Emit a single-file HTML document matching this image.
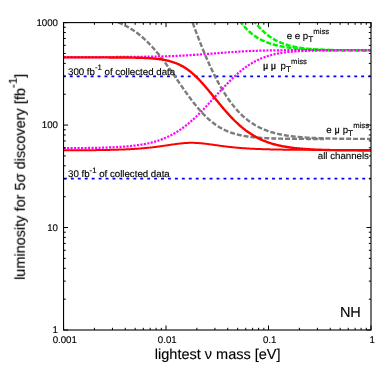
<!DOCTYPE html>
<html><head><meta charset="utf-8"><title>plot</title>
<style>
html,body{margin:0;padding:0;background:#fff;}
body{width:389px;height:375px;overflow:hidden;font-family:"Liberation Sans",sans-serif;}
svg{display:block;}
</style></head><body>
<svg width="389" height="375" viewBox="0 0 389 375">
<rect x="0" y="0" width="389" height="375" fill="#ffffff"/>
<defs><filter id="nf" filterUnits="userSpaceOnUse" x="0" y="0" width="389" height="375"><feOffset dx="0" dy="0"/></filter><clipPath id="c"><rect x="63.55" y="22.60" width="307.45" height="307.40"/></clipPath></defs>
<g clip-path="url(#c)" fill="none" stroke-linejoin="round">
<path d="M62.9,76.4 L371.00,76.4" stroke="#0000ff" stroke-width="1.75" stroke-dasharray="2.9,4.037"/>
<path d="M63.95,178.65 L371.00,178.65" stroke="#0000ff" stroke-width="1.75" stroke-dasharray="2.9,4.037"/>
<path d="M63.55,13.73 L64.20,13.76 L64.85,13.78 L65.50,13.81 L66.15,13.84 L66.81,13.87 L67.46,13.90 L68.11,13.93 L68.76,13.96 L69.41,13.99 L70.06,14.03 L70.71,14.06 L71.36,14.10 L72.01,14.14 L72.67,14.17 L73.32,14.21 L73.97,14.25 L74.62,14.30 L75.27,14.34 L75.92,14.38 L76.57,14.43 L77.22,14.47 L77.87,14.52 L78.53,14.57 L79.18,14.62 L79.83,14.67 L80.48,14.73 L81.13,14.78 L81.78,14.84 L82.43,14.90 L83.08,14.96 L83.73,15.02 L84.39,15.08 L85.04,15.15 L85.69,15.22 L86.34,15.29 L86.99,15.36 L87.64,15.43 L88.29,15.51 L88.94,15.58 L89.59,15.66 L90.25,15.74 L90.90,15.83 L91.55,15.91 L92.20,16.00 L92.85,16.09 L93.50,16.19 L94.15,16.28 L94.80,16.38 L95.46,16.49 L96.11,16.59 L96.76,16.70 L97.41,16.81 L98.06,16.92 L98.71,17.04 L99.36,17.16 L100.01,17.28 L100.66,17.41 L101.32,17.54 L101.97,17.67 L102.62,17.81 L103.27,17.95 L103.92,18.09 L104.57,18.24 L105.22,18.40 L105.87,18.55 L106.52,18.71 L107.18,18.88 L107.83,19.05 L108.48,19.22 L109.13,19.40 L109.78,19.58 L110.43,19.77 L111.08,19.96 L111.73,20.16 L112.38,20.36 L113.04,20.57 L113.69,20.79 L114.34,21.00 L114.99,21.23 L115.64,21.46 L116.29,21.69 L116.94,21.94 L117.59,22.18 L118.24,22.44 L118.90,22.70 L119.55,22.96 L120.20,23.24 L120.85,23.51 L121.50,23.80 L122.15,24.09 L122.80,24.39 L123.45,24.70 L124.10,25.01 L124.76,25.34 L125.41,25.66 L126.06,26.00 L126.71,26.35 L127.36,26.70 L128.01,27.06 L128.66,27.42 L129.31,27.80 L129.96,28.18 L130.62,28.58 L131.27,28.98 L131.92,29.39 L132.57,29.81 L133.22,30.23 L133.87,30.67 L134.52,31.11 L135.17,31.57 L135.82,32.03 L136.48,32.50 L137.13,32.98 L137.78,33.47 L138.43,33.98 L139.08,34.48 L139.73,35.00 L140.38,35.53 L141.03,36.07 L141.69,36.62 L142.34,37.18 L142.99,37.75 L143.64,38.33 L144.29,38.91 L144.94,39.51 L145.59,40.12 L146.24,40.74 L146.89,41.37 L147.55,42.00 L148.20,42.65 L148.85,43.31 L149.50,43.98 L150.15,44.66 L150.80,45.34 L151.45,46.04 L152.10,46.75 L152.75,47.46 L153.41,48.19 L154.06,48.92 L154.71,49.67 L155.36,50.42 L156.01,51.19 L156.66,51.96 L157.31,52.74 L157.96,53.53 L158.61,54.33 L159.27,55.13 L159.92,55.95 L160.57,56.77 L161.22,57.60 L161.87,58.44 L162.52,59.29 L163.17,60.14 L163.82,61.00 L164.47,61.87 L165.13,62.74 L165.78,63.62 L166.43,64.51 L167.08,65.40 L167.73,66.30 L168.38,67.20 L169.03,68.11 L169.68,69.02 L170.33,69.94 L170.99,70.86 L171.64,71.79 L172.29,72.71 L172.94,73.65 L173.59,74.58 L174.24,75.52 L174.89,76.46 L175.54,77.40 L176.19,78.34 L176.85,79.28 L177.50,80.22 L178.15,81.17 L178.80,82.11 L179.45,83.05 L180.10,83.99 L180.75,84.93 L181.40,85.87 L182.05,86.81 L182.71,87.74 L183.36,88.68 L184.01,89.60 L184.66,90.53 L185.31,91.45 L185.96,92.37 L186.61,93.28 L187.26,94.19 L187.91,95.09 L188.57,95.98 L189.22,96.87 L189.87,97.76 L190.52,98.63 L191.17,99.50 L191.82,100.36 L192.47,101.21 L193.12,102.06 L193.77,102.90 L194.43,103.73 L195.08,104.54 L195.73,105.35 L196.38,106.15 L197.03,106.95 L197.68,107.73 L198.33,108.50 L198.98,109.26 L199.64,110.00 L200.29,110.74 L200.94,111.47 L201.59,112.18 L202.24,112.89 L202.89,113.58 L203.54,114.26 L204.19,114.93 L204.84,115.59 L205.50,116.24 L206.15,116.87 L206.80,117.49 L207.45,118.10 L208.10,118.70 L208.75,119.28 L209.40,119.86 L210.05,120.42 L210.70,120.97 L211.36,121.51 L212.01,122.03 L212.66,122.54 L213.31,123.04 L213.96,123.53 L214.61,124.01 L215.26,124.48 L215.91,124.93 L216.56,125.38 L217.22,125.81 L217.87,126.23 L218.52,126.64 L219.17,127.04 L219.82,127.43 L220.47,127.81 L221.12,128.17 L221.77,128.53 L222.42,128.88 L223.08,129.22 L223.73,129.54 L224.38,129.86 L225.03,130.17 L225.68,130.47 L226.33,130.76 L226.98,131.04 L227.63,131.32 L228.28,131.58 L228.94,131.84 L229.59,132.09 L230.24,132.33 L230.89,132.56 L231.54,132.79 L232.19,133.01 L232.84,133.22 L233.49,133.43 L234.14,133.63 L234.80,133.82 L235.45,134.00 L236.10,134.18 L236.75,134.36 L237.40,134.52 L238.05,134.69 L238.70,134.84 L239.35,134.99 L240.00,135.14 L240.66,135.28 L241.31,135.42 L241.96,135.55 L242.61,135.67 L243.26,135.80 L243.91,135.92 L244.56,136.03 L245.21,136.14 L245.87,136.25 L246.52,136.35 L247.17,136.45 L247.82,136.54 L248.47,136.63 L249.12,136.72 L249.77,136.81 L250.42,136.89 L251.07,136.97 L251.73,137.04 L252.38,137.12 L253.03,137.19 L253.68,137.26 L254.33,137.32 L254.98,137.39 L255.63,137.45 L256.28,137.50 L256.93,137.56 L257.59,137.62 L258.24,137.67 L258.89,137.72 L259.54,137.77 L260.19,137.81 L260.84,137.86 L261.49,137.90 L262.14,137.94 L262.79,137.98 L263.45,138.02 L264.10,138.06 L264.75,138.10 L265.40,138.13 L266.05,138.16 L266.70,138.20 L267.35,138.23 L268.00,138.26 L268.65,138.28 L269.31,138.31 L269.96,138.34 L270.61,138.36 L271.26,138.39 L271.91,138.41 L272.56,138.43 L273.21,138.46 L273.86,138.48 L274.51,138.50 L275.17,138.52 L275.82,138.53 L276.47,138.55 L277.12,138.57 L277.77,138.59 L278.42,138.60 L279.07,138.62 L279.72,138.63 L280.37,138.65 L281.03,138.66 L281.68,138.67 L282.33,138.68 L282.98,138.70 L283.63,138.71 L284.28,138.72 L284.93,138.73 L285.58,138.74 L286.23,138.75 L286.89,138.76 L287.54,138.77 L288.19,138.78 L288.84,138.79 L289.49,138.79 L290.14,138.80 L290.79,138.81 L291.44,138.82 L292.09,138.82 L292.75,138.83 L293.40,138.84 L294.05,138.84 L294.70,138.85 L295.35,138.85 L296.00,138.86 L296.65,138.87 L297.30,138.87 L297.95,138.88 L298.61,138.88 L299.26,138.88 L299.91,138.89 L300.56,138.89 L301.21,138.90 L301.86,138.90 L302.51,138.90 L303.16,138.91 L303.82,138.91 L304.47,138.91 L305.12,138.92 L305.77,138.92 L306.42,138.92 L307.07,138.93 L307.72,138.93 L308.37,138.93 L309.02,138.93 L309.68,138.94 L310.33,138.94 L310.98,138.94 L311.63,138.94 L312.28,138.95 L312.93,138.95 L313.58,138.95 L314.23,138.95 L314.88,138.95 L315.54,138.95 L316.19,138.96 L316.84,138.96 L317.49,138.96 L318.14,138.96 L318.79,138.96 L319.44,138.96 L320.09,138.96 L320.74,138.97 L321.40,138.97 L322.05,138.97 L322.70,138.97 L323.35,138.97 L324.00,138.97" stroke="#7c7c7c" stroke-width="2.4" stroke-dasharray="5.0,1.94"/>
<path d="M188.07,9.68 L188.84,11.89 L189.60,14.09 L190.37,16.27 L191.14,18.44 L191.91,20.59 L192.68,22.73 L193.45,24.85 L194.22,26.95 L194.98,29.03 L195.75,31.10 L196.52,33.15 L197.29,35.18 L198.06,37.19 L198.83,39.18 L199.60,41.16 L200.37,43.11 L201.13,45.05 L201.90,46.96 L202.67,48.86 L203.44,50.73 L204.21,52.58 L204.98,54.41 L205.75,56.22 L206.51,58.01 L207.28,59.78 L208.05,61.52 L208.82,63.24 L209.59,64.94 L210.36,66.62 L211.13,68.27 L211.89,69.90 L212.66,71.50 L213.43,73.09 L214.20,74.65 L214.97,76.18 L215.74,77.69 L216.51,79.18 L217.27,80.64 L218.04,82.08 L218.81,83.50 L219.58,84.89 L220.35,86.26 L221.12,87.60 L221.89,88.92 L222.66,90.21 L223.42,91.48 L224.19,92.73 L224.96,93.95 L225.73,95.15 L226.50,96.32 L227.27,97.47 L228.04,98.60 L228.80,99.70 L229.57,100.78 L230.34,101.84 L231.11,102.88 L231.88,103.89 L232.65,104.88 L233.42,105.84 L234.18,106.79 L234.95,107.71 L235.72,108.61 L236.49,109.49 L237.26,110.35 L238.03,111.19 L238.80,112.01 L239.57,112.81 L240.33,113.59 L241.10,114.34 L241.87,115.08 L242.64,115.80 L243.41,116.51 L244.18,117.19 L244.95,117.85 L245.71,118.50 L246.48,119.13 L247.25,119.74 L248.02,120.34 L248.79,120.92 L249.56,121.48 L250.33,122.03 L251.09,122.57 L251.86,123.08 L252.63,123.59 L253.40,124.07 L254.17,124.55 L254.94,125.01 L255.71,125.46 L256.47,125.89 L257.24,126.31 L258.01,126.72 L258.78,127.12 L259.55,127.50 L260.32,127.88 L261.09,128.24 L261.86,128.59 L262.62,128.93 L263.39,129.26 L264.16,129.58 L264.93,129.89 L265.70,130.19 L266.47,130.48 L267.24,130.76 L268.00,131.03 L268.77,131.30 L269.54,131.55 L270.31,131.80 L271.08,132.04 L271.85,132.27 L272.62,132.50 L273.38,132.72 L274.15,132.93 L274.92,133.13 L275.69,133.33 L276.46,133.52 L277.23,133.70 L278.00,133.88 L278.76,134.06 L279.53,134.22 L280.30,134.38 L281.07,134.54 L281.84,134.69 L282.61,134.84 L283.38,134.98 L284.15,135.12 L284.91,135.25 L285.68,135.38 L286.45,135.50 L287.22,135.62 L287.99,135.73 L288.76,135.85 L289.53,135.95 L290.29,136.06 L291.06,136.16 L291.83,136.26 L292.60,136.35 L293.37,136.44 L294.14,136.53 L294.91,136.61 L295.67,136.69 L296.44,136.77 L297.21,136.85 L297.98,136.92 L298.75,137.00 L299.52,137.06 L300.29,137.13 L301.06,137.20 L301.82,137.26 L302.59,137.32 L303.36,137.38 L304.13,137.43 L304.90,137.49 L305.67,137.54 L306.44,137.59 L307.20,137.64 L307.97,137.68 L308.74,137.73 L309.51,137.77 L310.28,137.82 L311.05,137.86 L311.82,137.90 L312.58,137.93 L313.35,137.97 L314.12,138.01 L314.89,138.04 L315.66,138.07 L316.43,138.11 L317.20,138.14 L317.96,138.17 L318.73,138.20 L319.50,138.22 L320.27,138.25 L321.04,138.28 L321.81,138.30 L322.58,138.32 L323.35,138.35 L324.11,138.37 L324.88,138.39 L325.65,138.41 L326.42,138.43 L327.19,138.45 L327.96,138.47 L328.73,138.49 L329.49,138.51 L330.26,138.52 L331.03,138.54 L331.80,138.56 L332.57,138.57 L333.34,138.59 L334.11,138.60 L334.87,138.61 L335.64,138.63 L336.41,138.64 L337.18,138.65 L337.95,138.67 L338.72,138.68 L339.49,138.69 L340.25,138.70 L341.02,138.71 L341.79,138.72 L342.56,138.73 L343.33,138.74 L344.10,138.75 L344.87,138.76 L345.64,138.76 L346.40,138.77 L347.17,138.78 L347.94,138.79 L348.71,138.79 L349.48,138.80 L350.25,138.81 L351.02,138.82 L351.78,138.82 L352.55,138.83 L353.32,138.83 L354.09,138.84 L354.86,138.84 L355.63,138.85 L356.40,138.85 L357.16,138.86 L357.93,138.86 L358.70,138.87 L359.47,138.87 L360.24,138.88 L361.01,138.88 L361.78,138.89 L362.55,138.89 L363.31,138.89 L364.08,138.90 L364.85,138.90 L365.62,138.90 L366.39,138.91 L367.16,138.91 L367.93,138.91 L368.69,138.92 L369.46,138.92 L370.23,138.92 L371.00,138.92" stroke="#7c7c7c" stroke-width="2.4" stroke-dasharray="5.0,1.94"/>
<path d="M232.65,8.72 L233.42,10.23 L234.18,11.68 L234.95,13.08 L235.72,14.43 L236.49,15.73 L237.26,16.99 L238.03,18.19 L238.80,19.36 L239.57,20.48 L240.33,21.57 L241.10,22.61 L241.87,23.62 L242.64,24.58 L243.41,25.52 L244.18,26.42 L244.95,27.29 L245.71,28.12 L246.48,28.93 L247.25,29.71 L248.02,30.46 L248.79,31.18 L249.56,31.88 L250.33,32.55 L251.09,33.19 L251.86,33.82 L252.63,34.42 L253.40,35.00 L254.17,35.56 L254.94,36.09 L255.71,36.61 L256.47,37.11 L257.24,37.59 L258.01,38.06 L258.78,38.51 L259.55,38.94 L260.32,39.35 L261.09,39.75 L261.86,40.14 L262.62,40.51 L263.39,40.87 L264.16,41.22 L264.93,41.55 L265.70,41.87 L266.47,42.18 L267.24,42.48 L268.00,42.77 L268.77,43.04 L269.54,43.31 L270.31,43.57 L271.08,43.82 L271.85,44.06 L272.62,44.29 L273.38,44.51 L274.15,44.72 L274.92,44.93 L275.69,45.13 L276.46,45.32 L277.23,45.51 L278.00,45.69 L278.76,45.86 L279.53,46.02 L280.30,46.18 L281.07,46.34 L281.84,46.48 L282.61,46.63 L283.38,46.77 L284.15,46.90 L284.91,47.03 L285.68,47.15 L286.45,47.27 L287.22,47.38 L287.99,47.49 L288.76,47.60 L289.53,47.70 L290.29,47.80 L291.06,47.90 L291.83,47.99 L292.60,48.08 L293.37,48.16 L294.14,48.25 L294.91,48.32 L295.67,48.40 L296.44,48.47 L297.21,48.55 L297.98,48.61 L298.75,48.68 L299.52,48.74 L300.29,48.81 L301.06,48.86 L301.82,48.92 L302.59,48.98 L303.36,49.03 L304.13,49.08 L304.90,49.13 L305.67,49.18 L306.44,49.22 L307.20,49.27 L307.97,49.31 L308.74,49.35 L309.51,49.39 L310.28,49.43 L311.05,49.46 L311.82,49.50 L312.58,49.53 L313.35,49.57 L314.12,49.60 L314.89,49.63 L315.66,49.66 L316.43,49.69 L317.20,49.71 L317.96,49.74 L318.73,49.76 L319.50,49.79 L320.27,49.81 L321.04,49.83 L321.81,49.86 L322.58,49.88 L323.35,49.90 L324.11,49.92 L324.88,49.94 L325.65,49.95 L326.42,49.97 L327.19,49.99 L327.96,50.01 L328.73,50.02 L329.49,50.04 L330.26,50.05 L331.03,50.06 L331.80,50.08 L332.57,50.09 L333.34,50.10 L334.11,50.12 L334.87,50.13 L335.64,50.14 L336.41,50.15 L337.18,50.16 L337.95,50.17 L338.72,50.18 L339.49,50.19 L340.25,50.20 L341.02,50.21 L341.79,50.22 L342.56,50.22 L343.33,50.23 L344.10,50.24 L344.87,50.25 L345.64,50.25 L346.40,50.26 L347.17,50.27 L347.94,50.27 L348.71,50.28 L349.48,50.28 L350.25,50.29 L351.02,50.30 L351.78,50.30 L352.55,50.31 L353.32,50.31 L354.09,50.32 L354.86,50.32 L355.63,50.32 L356.40,50.33 L357.16,50.33 L357.93,50.34 L358.70,50.34 L359.47,50.34 L360.24,50.35 L361.01,50.35 L361.78,50.35 L362.55,50.36 L363.31,50.36 L364.08,50.36 L364.85,50.37 L365.62,50.37 L366.39,50.37 L367.16,50.37 L367.93,50.38 L368.69,50.38 L369.46,50.38 L370.23,50.38 L371.00,50.38" stroke="#00f200" stroke-width="2.5" stroke-dasharray="5.1,1.84"/>
<path d="M245.71,7.98 L246.48,9.34 L247.25,10.66 L248.02,11.95 L248.79,13.20 L249.56,14.43 L250.33,15.62 L251.09,16.78 L251.86,17.91 L252.63,19.01 L253.40,20.08 L254.17,21.12 L254.94,22.13 L255.71,23.11 L256.47,24.07 L257.24,24.99 L258.01,25.89 L258.78,26.76 L259.55,27.61 L260.32,28.43 L261.09,29.22 L261.86,29.99 L262.62,30.74 L263.39,31.46 L264.16,32.16 L264.93,32.84 L265.70,33.49 L266.47,34.12 L267.24,34.74 L268.00,35.33 L268.77,35.90 L269.54,36.45 L270.31,36.99 L271.08,37.50 L271.85,38.00 L272.62,38.48 L273.38,38.94 L274.15,39.39 L274.92,39.82 L275.69,40.24 L276.46,40.64 L277.23,41.03 L278.00,41.40 L278.76,41.76 L279.53,42.11 L280.30,42.44 L281.07,42.76 L281.84,43.07 L282.61,43.37 L283.38,43.66 L284.15,43.93 L284.91,44.20 L285.68,44.46 L286.45,44.70 L287.22,44.94 L287.99,45.17 L288.76,45.39 L289.53,45.60 L290.29,45.80 L291.06,46.00 L291.83,46.19 L292.60,46.37 L293.37,46.54 L294.14,46.71 L294.91,46.87 L295.67,47.02 L296.44,47.17 L297.21,47.31 L297.98,47.45 L298.75,47.58 L299.52,47.71 L300.29,47.83 L301.06,47.95 L301.82,48.06 L302.59,48.17 L303.36,48.27 L304.13,48.37 L304.90,48.47 L305.67,48.56 L306.44,48.64 L307.20,48.73 L307.97,48.81 L308.74,48.89 L309.51,48.96 L310.28,49.04 L311.05,49.11 L311.82,49.17 L312.58,49.24 L313.35,49.30 L314.12,49.36 L314.89,49.41 L315.66,49.47 L316.43,49.52 L317.20,49.57 L317.96,49.62 L318.73,49.66 L319.50,49.71 L320.27,49.75 L321.04,49.79 L321.81,49.83 L322.58,49.86 L323.35,49.90 L324.11,49.94 L324.88,49.97 L325.65,50.00 L326.42,50.03 L327.19,50.06 L327.96,50.09 L328.73,50.12 L329.49,50.14 L330.26,50.17 L331.03,50.19 L331.80,50.21 L332.57,50.23 L333.34,50.26 L334.11,50.28 L334.87,50.29 L335.64,50.31 L336.41,50.33 L337.18,50.35 L337.95,50.36 L338.72,50.38 L339.49,50.40 L340.25,50.41 L341.02,50.42 L341.79,50.44 L342.56,50.45 L343.33,50.46 L344.10,50.47 L344.87,50.49 L345.64,50.50 L346.40,50.51 L347.17,50.52 L347.94,50.53 L348.71,50.54 L349.48,50.54 L350.25,50.55 L351.02,50.56 L351.78,50.57 L352.55,50.58 L353.32,50.58 L354.09,50.59 L354.86,50.60 L355.63,50.60 L356.40,50.61 L357.16,50.62 L357.93,50.62 L358.70,50.63 L359.47,50.63 L360.24,50.64 L361.01,50.64 L361.78,50.65 L362.55,50.65 L363.31,50.65 L364.08,50.66 L364.85,50.66 L365.62,50.67 L366.39,50.67 L367.16,50.67 L367.93,50.68 L368.69,50.68 L369.46,50.68 L370.23,50.69 L371.00,50.69" stroke="#00f200" stroke-width="2.5" stroke-dasharray="5.1,1.84"/>
<path d="M63.55,57.07 L64.32,57.07 L65.09,57.07 L65.86,57.07 L66.62,57.07 L67.39,57.07 L68.16,57.07 L68.93,57.07 L69.70,57.07 L70.47,57.07 L71.24,57.07 L72.00,57.07 L72.77,57.07 L73.54,57.07 L74.31,57.07 L75.08,57.06 L75.85,57.06 L76.62,57.06 L77.39,57.06 L78.15,57.06 L78.92,57.06 L79.69,57.06 L80.46,57.06 L81.23,57.06 L82.00,57.06 L82.77,57.06 L83.53,57.06 L84.30,57.06 L85.07,57.05 L85.84,57.05 L86.61,57.05 L87.38,57.05 L88.15,57.05 L88.91,57.05 L89.68,57.05 L90.45,57.05 L91.22,57.05 L91.99,57.04 L92.76,57.04 L93.53,57.04 L94.29,57.04 L95.06,57.04 L95.83,57.04 L96.60,57.04 L97.37,57.03 L98.14,57.03 L98.91,57.03 L99.68,57.03 L100.44,57.03 L101.21,57.03 L101.98,57.02 L102.75,57.02 L103.52,57.02 L104.29,57.02 L105.06,57.02 L105.82,57.01 L106.59,57.01 L107.36,57.01 L108.13,57.01 L108.90,57.00 L109.67,57.00 L110.44,57.00 L111.20,57.00 L111.97,56.99 L112.74,56.99 L113.51,56.99 L114.28,56.98 L115.05,56.98 L115.82,56.98 L116.59,56.97 L117.35,56.97 L118.12,56.97 L118.89,56.96 L119.66,56.96 L120.43,56.95 L121.20,56.95 L121.97,56.94 L122.73,56.94 L123.50,56.94 L124.27,56.93 L125.04,56.93 L125.81,56.92 L126.58,56.92 L127.35,56.91 L128.11,56.90 L128.88,56.90 L129.65,56.89 L130.42,56.89 L131.19,56.88 L131.96,56.87 L132.73,56.87 L133.49,56.86 L134.26,56.85 L135.03,56.84 L135.80,56.84 L136.57,56.83 L137.34,56.82 L138.11,56.81 L138.88,56.80 L139.64,56.79 L140.41,56.79 L141.18,56.78 L141.95,56.77 L142.72,56.76 L143.49,56.75 L144.26,56.74 L145.02,56.72 L145.79,56.71 L146.56,56.70 L147.33,56.69 L148.10,56.68 L148.87,56.66 L149.64,56.65 L150.40,56.64 L151.17,56.62 L151.94,56.61 L152.71,56.59 L153.48,56.58 L154.25,56.56 L155.02,56.55 L155.78,56.53 L156.55,56.51 L157.32,56.50 L158.09,56.48 L158.86,56.46 L159.63,56.44 L160.40,56.42 L161.17,56.40 L161.93,56.38 L162.70,56.36 L163.47,56.34 L164.24,56.32 L165.01,56.29 L165.78,56.27 L166.55,56.25 L167.31,56.22 L168.08,56.20 L168.85,56.17 L169.62,56.14 L170.39,56.12 L171.16,56.09 L171.93,56.06 L172.69,56.03 L173.46,56.00 L174.23,55.97 L175.00,55.94 L175.77,55.91 L176.54,55.87 L177.31,55.84 L178.08,55.81 L178.84,55.77 L179.61,55.74 L180.38,55.70 L181.15,55.66 L181.92,55.62 L182.69,55.58 L183.46,55.54 L184.22,55.50 L184.99,55.46 L185.76,55.42 L186.53,55.38 L187.30,55.33 L188.07,55.29 L188.84,55.24 L189.60,55.20 L190.37,55.15 L191.14,55.10 L191.91,55.06 L192.68,55.01 L193.45,54.96 L194.22,54.91 L194.98,54.86 L195.75,54.80 L196.52,54.75 L197.29,54.70 L198.06,54.64 L198.83,54.59 L199.60,54.53 L200.37,54.48 L201.13,54.42 L201.90,54.37 L202.67,54.31 L203.44,54.25 L204.21,54.19 L204.98,54.13 L205.75,54.07 L206.51,54.01 L207.28,53.96 L208.05,53.89 L208.82,53.83 L209.59,53.77 L210.36,53.71 L211.13,53.65 L211.89,53.59 L212.66,53.53 L213.43,53.47 L214.20,53.41 L214.97,53.34 L215.74,53.28 L216.51,53.22 L217.27,53.16 L218.04,53.10 L218.81,53.04 L219.58,52.98 L220.35,52.92 L221.12,52.86 L221.89,52.80 L222.66,52.74 L223.42,52.68 L224.19,52.62 L224.96,52.56 L225.73,52.50 L226.50,52.44 L227.27,52.39 L228.04,52.33 L228.80,52.27 L229.57,52.22 L230.34,52.16 L231.11,52.11 L231.88,52.06 L232.65,52.01 L233.42,51.95 L234.18,51.90 L234.95,51.85 L235.72,51.80 L236.49,51.75 L237.26,51.71 L238.03,51.66 L238.80,51.61 L239.57,51.57 L240.33,51.52 L241.10,51.48 L241.87,51.44 L242.64,51.39 L243.41,51.35 L244.18,51.31 L244.95,51.27 L245.71,51.24 L246.48,51.20 L247.25,51.16 L248.02,51.12 L248.79,51.09 L249.56,51.06 L250.33,51.02 L251.09,50.99 L251.86,50.96 L252.63,50.93 L253.40,50.90 L254.17,50.87 L254.94,50.84 L255.71,50.81 L256.47,50.78 L257.24,50.76 L258.01,50.73 L258.78,50.71 L259.55,50.68 L260.32,50.66 L261.09,50.64 L261.86,50.62 L262.62,50.59 L263.39,50.57 L264.16,50.55 L264.93,50.53 L265.70,50.52 L266.47,50.50 L267.24,50.48 L268.00,50.46 L268.77,50.45 L269.54,50.43 L270.31,50.41 L271.08,50.40 L271.85,50.39 L272.62,50.37 L273.38,50.36 L274.15,50.35 L274.92,50.33 L275.69,50.32 L276.46,50.31 L277.23,50.30 L278.00,50.29 L278.76,50.28 L279.53,50.27 L280.30,50.26 L281.07,50.25 L281.84,50.24 L282.61,50.23 L283.38,50.22 L284.15,50.21 L284.91,50.20 L285.68,50.20 L286.45,50.19 L287.22,50.18 L287.99,50.18 L288.76,50.17 L289.53,50.16 L290.29,50.16 L291.06,50.15 L291.83,50.15 L292.60,50.14 L293.37,50.13 L294.14,50.13 L294.91,50.12 L295.67,50.12 L296.44,50.12 L297.21,50.11 L297.98,50.11 L298.75,50.10 L299.52,50.10 L300.29,50.10 L301.06,50.09 L301.82,50.09 L302.59,50.09 L303.36,50.08 L304.13,50.08 L304.90,50.08 L305.67,50.07 L306.44,50.07 L307.20,50.07 L307.97,50.07 L308.74,50.06 L309.51,50.06 L310.28,50.06 L311.05,50.06 L311.82,50.06 L312.58,50.05 L313.35,50.05 L314.12,50.05 L314.89,50.05 L315.66,50.05 L316.43,50.04 L317.20,50.04 L317.96,50.04 L318.73,50.04 L319.50,50.04 L320.27,50.04 L321.04,50.04 L321.81,50.04 L322.58,50.03 L323.35,50.03 L324.11,50.03 L324.88,50.03 L325.65,50.03 L326.42,50.03 L327.19,50.03 L327.96,50.03 L328.73,50.03 L329.49,50.03 L330.26,50.03 L331.03,50.02 L331.80,50.02 L332.57,50.02 L333.34,50.02 L334.11,50.02 L334.87,50.02 L335.64,50.02 L336.41,50.02 L337.18,50.02 L337.95,50.02 L338.72,50.02 L339.49,50.02 L340.25,50.02 L341.02,50.02 L341.79,50.02 L342.56,50.02 L343.33,50.02 L344.10,50.02 L344.87,50.02 L345.64,50.02 L346.40,50.01 L347.17,50.01 L347.94,50.01 L348.71,50.01 L349.48,50.01 L350.25,50.01 L351.02,50.01 L351.78,50.01 L352.55,50.01 L353.32,50.01 L354.09,50.01 L354.86,50.01 L355.63,50.01 L356.40,50.01 L357.16,50.01 L357.93,50.01 L358.70,50.01 L359.47,50.01 L360.24,50.01 L361.01,50.01 L361.78,50.01 L362.55,50.01 L363.31,50.01 L364.08,50.01 L364.85,50.01 L365.62,50.01 L366.39,50.01 L367.16,50.01 L367.93,50.01 L368.69,50.01 L369.46,50.01 L370.23,50.01 L371.00,50.01" stroke="#ff00ff" stroke-width="2.2" stroke-dasharray="2.1,1.4"/>
<path d="M63.55,148.20 L64.23,148.19 L64.91,148.19 L65.59,148.19 L66.27,148.18 L66.96,148.18 L67.64,148.17 L68.32,148.17 L69.00,148.17 L69.68,148.16 L70.36,148.16 L71.04,148.15 L71.72,148.15 L72.40,148.14 L73.09,148.14 L73.77,148.14 L74.45,148.13 L75.13,148.12 L75.81,148.12 L76.49,148.11 L77.17,148.11 L77.85,148.10 L78.53,148.10 L79.22,148.09 L79.90,148.08 L80.58,148.08 L81.26,148.07 L81.94,148.06 L82.62,148.05 L83.30,148.05 L83.98,148.04 L84.66,148.03 L85.35,148.02 L86.03,148.01 L86.71,148.00 L87.39,147.99 L88.07,147.98 L88.75,147.97 L89.43,147.96 L90.11,147.95 L90.79,147.94 L91.48,147.93 L92.16,147.92 L92.84,147.91 L93.52,147.89 L94.20,147.88 L94.88,147.87 L95.56,147.85 L96.24,147.84 L96.93,147.82 L97.61,147.81 L98.29,147.79 L98.97,147.78 L99.65,147.76 L100.33,147.74 L101.01,147.73 L101.69,147.71 L102.37,147.69 L103.06,147.67 L103.74,147.65 L104.42,147.63 L105.10,147.61 L105.78,147.58 L106.46,147.56 L107.14,147.54 L107.82,147.51 L108.50,147.49 L109.19,147.46 L109.87,147.43 L110.55,147.41 L111.23,147.38 L111.91,147.35 L112.59,147.32 L113.27,147.29 L113.95,147.25 L114.63,147.22 L115.32,147.19 L116.00,147.15 L116.68,147.11 L117.36,147.08 L118.04,147.04 L118.72,147.00 L119.40,146.95 L120.08,146.91 L120.76,146.87 L121.45,146.82 L122.13,146.77 L122.81,146.72 L123.49,146.67 L124.17,146.62 L124.85,146.57 L125.53,146.51 L126.21,146.46 L126.89,146.40 L127.58,146.34 L128.26,146.28 L128.94,146.21 L129.62,146.14 L130.30,146.08 L130.98,146.01 L131.66,145.93 L132.34,145.86 L133.02,145.78 L133.71,145.70 L134.39,145.62 L135.07,145.54 L135.75,145.45 L136.43,145.36 L137.11,145.27 L137.79,145.17 L138.47,145.07 L139.15,144.97 L139.84,144.87 L140.52,144.76 L141.20,144.65 L141.88,144.54 L142.56,144.42 L143.24,144.30 L143.92,144.18 L144.60,144.05 L145.28,143.92 L145.97,143.78 L146.65,143.65 L147.33,143.50 L148.01,143.36 L148.69,143.20 L149.37,143.05 L150.05,142.89 L150.73,142.73 L151.42,142.56 L152.10,142.38 L152.78,142.20 L153.46,142.02 L154.14,141.83 L154.82,141.64 L155.50,141.44 L156.18,141.24 L156.86,141.03 L157.55,140.81 L158.23,140.59 L158.91,140.37 L159.59,140.13 L160.27,139.89 L160.95,139.65 L161.63,139.40 L162.31,139.14 L162.99,138.88 L163.68,138.61 L164.36,138.33 L165.04,138.05 L165.72,137.76 L166.40,137.46 L167.08,137.15 L167.76,136.84 L168.44,136.52 L169.12,136.19 L169.81,135.86 L170.49,135.52 L171.17,135.17 L171.85,134.81 L172.53,134.45 L173.21,134.07 L173.89,133.69 L174.57,133.30 L175.25,132.91 L175.94,132.50 L176.62,132.09 L177.30,131.66 L177.98,131.23 L178.66,130.79 L179.34,130.35 L180.02,129.89 L180.70,129.43 L181.38,128.95 L182.07,128.47 L182.75,127.98 L183.43,127.49 L184.11,126.98 L184.79,126.46 L185.47,125.94 L186.15,125.41 L186.83,124.87 L187.51,124.32 L188.20,123.76 L188.88,123.20 L189.56,122.62 L190.24,122.04 L190.92,121.45 L191.60,120.86 L192.28,120.25 L192.96,119.64 L193.64,119.02 L194.33,118.39 L195.01,117.76 L195.69,117.12 L196.37,116.47 L197.05,115.81 L197.73,115.15 L198.41,114.48 L199.09,113.81 L199.77,113.13 L200.46,112.44 L201.14,111.75 L201.82,111.05 L202.50,110.35 L203.18,109.64 L203.86,108.93 L204.54,108.21 L205.22,107.49 L205.91,106.77 L206.59,106.04 L207.27,105.31 L207.95,104.57 L208.63,103.83 L209.31,103.09 L209.99,102.35 L210.67,101.61 L211.35,100.86 L212.04,100.11 L212.72,99.36 L213.40,98.61 L214.08,97.86 L214.76,97.11 L215.44,96.36 L216.12,95.60 L216.80,94.85 L217.48,94.10 L218.17,93.36 L218.85,92.61 L219.53,91.86 L220.21,91.12 L220.89,90.38 L221.57,89.64 L222.25,88.91 L222.93,88.17 L223.61,87.45 L224.30,86.72 L224.98,86.00 L225.66,85.29 L226.34,84.57 L227.02,83.87 L227.70,83.17 L228.38,82.47 L229.06,81.78 L229.74,81.10 L230.43,80.42 L231.11,79.75 L231.79,79.08 L232.47,78.42 L233.15,77.77 L233.83,77.13 L234.51,76.49 L235.19,75.86 L235.87,75.24 L236.56,74.63 L237.24,74.02 L237.92,73.42 L238.60,72.84 L239.28,72.26 L239.96,71.68 L240.64,71.12 L241.32,70.57 L242.00,70.02 L242.69,69.49 L243.37,68.96 L244.05,68.44 L244.73,67.93 L245.41,67.43 L246.09,66.95 L246.77,66.46 L247.45,65.99 L248.13,65.53 L248.82,65.08 L249.50,64.64 L250.18,64.20 L250.86,63.78 L251.54,63.37 L252.22,62.96 L252.90,62.56 L253.58,62.18 L254.26,61.80 L254.95,61.43 L255.63,61.07 L256.31,60.72 L256.99,60.38 L257.67,60.04 L258.35,59.72 L259.03,59.40 L259.71,59.09 L260.40,58.79 L261.08,58.50 L261.76,58.22 L262.44,57.94 L263.12,57.68 L263.80,57.42 L264.48,57.16 L265.16,56.92 L265.84,56.68 L266.53,56.45 L267.21,56.23 L267.89,56.01 L268.57,55.80 L269.25,55.60 L269.93,55.40 L270.61,55.21 L271.29,55.02 L271.97,54.84 L272.66,54.67 L273.34,54.50 L274.02,54.34 L274.70,54.19 L275.38,54.04 L276.06,53.89 L276.74,53.75 L277.42,53.61 L278.10,53.48 L278.79,53.36 L279.47,53.24 L280.15,53.12 L280.83,53.00 L281.51,52.90 L282.19,52.79 L282.87,52.69 L283.55,52.59 L284.23,52.50 L284.92,52.41 L285.60,52.32 L286.28,52.24 L286.96,52.16 L287.64,52.08 L288.32,52.00 L289.00,51.93 L289.68,51.86 L290.36,51.80 L291.05,51.73 L291.73,51.67 L292.41,51.61 L293.09,51.55 L293.77,51.50 L294.45,51.45 L295.13,51.40 L295.81,51.35 L296.49,51.30 L297.18,51.26 L297.86,51.22 L298.54,51.18 L299.22,51.14 L299.90,51.10 L300.58,51.06 L301.26,51.03 L301.94,51.00 L302.62,50.96 L303.31,50.93 L303.99,50.90 L304.67,50.88 L305.35,50.85 L306.03,50.82 L306.71,50.80 L307.39,50.78 L308.07,50.75 L308.75,50.73 L309.44,50.71 L310.12,50.69 L310.80,50.67 L311.48,50.65 L312.16,50.64 L312.84,50.62 L313.52,50.60 L314.20,50.59 L314.89,50.57 L315.57,50.56 L316.25,50.55 L316.93,50.53 L317.61,50.52 L318.29,50.51 L318.97,50.50 L319.65,50.49 L320.33,50.48 L321.02,50.47 L321.70,50.46 L322.38,50.45 L323.06,50.44 L323.74,50.43 L324.42,50.42 L325.10,50.42 L325.78,50.41 L326.46,50.40 L327.15,50.40 L327.83,50.39 L328.51,50.38 L329.19,50.38 L329.87,50.37 L330.55,50.37 L331.23,50.36 L331.91,50.36 L332.59,50.35 L333.28,50.35 L333.96,50.35 L334.64,50.34 L335.32,50.34 L336.00,50.33" stroke="#ff00ff" stroke-width="2.2" stroke-dasharray="2.1,1.4"/>
<path d="M63.55,150.35 L64.32,150.35 L65.09,150.35 L65.86,150.35 L66.62,150.34 L67.39,150.34 L68.16,150.34 L68.93,150.33 L69.70,150.33 L70.47,150.33 L71.24,150.32 L72.00,150.32 L72.77,150.32 L73.54,150.31 L74.31,150.31 L75.08,150.31 L75.85,150.30 L76.62,150.30 L77.39,150.29 L78.15,150.29 L78.92,150.28 L79.69,150.28 L80.46,150.27 L81.23,150.27 L82.00,150.26 L82.77,150.26 L83.53,150.25 L84.30,150.24 L85.07,150.24 L85.84,150.23 L86.61,150.22 L87.38,150.22 L88.15,150.21 L88.91,150.20 L89.68,150.20 L90.45,150.19 L91.22,150.18 L91.99,150.17 L92.76,150.16 L93.53,150.15 L94.29,150.14 L95.06,150.14 L95.83,150.13 L96.60,150.12 L97.37,150.10 L98.14,150.09 L98.91,150.08 L99.68,150.07 L100.44,150.06 L101.21,150.05 L101.98,150.03 L102.75,150.02 L103.52,150.01 L104.29,149.99 L105.06,149.98 L105.82,149.96 L106.59,149.95 L107.36,149.93 L108.13,149.92 L108.90,149.90 L109.67,149.88 L110.44,149.86 L111.20,149.85 L111.97,149.83 L112.74,149.81 L113.51,149.79 L114.28,149.76 L115.05,149.74 L115.82,149.72 L116.59,149.70 L117.35,149.67 L118.12,149.65 L118.89,149.62 L119.66,149.60 L120.43,149.57 L121.20,149.54 L121.97,149.51 L122.73,149.48 L123.50,149.45 L124.27,149.42 L125.04,149.39 L125.81,149.35 L126.58,149.32 L127.35,149.28 L128.11,149.24 L128.88,149.21 L129.65,149.17 L130.42,149.13 L131.19,149.08 L131.96,149.04 L132.73,149.00 L133.49,148.95 L134.26,148.90 L135.03,148.85 L135.80,148.80 L136.57,148.75 L137.34,148.70 L138.11,148.65 L138.88,148.59 L139.64,148.53 L140.41,148.47 L141.18,148.41 L141.95,148.35 L142.72,148.28 L143.49,148.22 L144.26,148.15 L145.02,148.08 L145.79,148.01 L146.56,147.93 L147.33,147.86 L148.10,147.78 L148.87,147.70 L149.64,147.62 L150.40,147.54 L151.17,147.45 L151.94,147.37 L152.71,147.28 L153.48,147.19 L154.25,147.09 L155.02,147.00 L155.78,146.90 L156.55,146.80 L157.32,146.70 L158.09,146.60 L158.86,146.50 L159.63,146.39 L160.40,146.29 L161.17,146.18 L161.93,146.07 L162.70,145.96 L163.47,145.85 L164.24,145.74 L165.01,145.62 L165.78,145.51 L166.55,145.39 L167.31,145.28 L168.08,145.16 L168.85,145.05 L169.62,144.93 L170.39,144.82 L171.16,144.70 L171.93,144.59 L172.69,144.48 L173.46,144.37 L174.23,144.26 L175.00,144.15 L175.77,144.05 L176.54,143.94 L177.31,143.84 L178.08,143.75 L178.84,143.65 L179.61,143.57 L180.38,143.48 L181.15,143.40 L181.92,143.32 L182.69,143.25 L183.46,143.18 L184.22,143.12 L184.99,143.06 L185.76,143.01 L186.53,142.97 L187.30,142.93 L188.07,142.90 L188.84,142.87 L189.60,142.85 L190.37,142.83 L191.14,142.83 L191.91,142.83 L192.68,142.83 L193.45,142.84 L194.22,142.86 L194.98,142.89 L195.75,142.92 L196.52,142.95 L197.29,142.99 L198.06,143.04 L198.83,143.10 L199.60,143.16 L200.37,143.22 L201.13,143.29 L201.90,143.36 L202.67,143.44 L203.44,143.52 L204.21,143.60 L204.98,143.69 L205.75,143.78 L206.51,143.88 L207.28,143.98 L208.05,144.08 L208.82,144.18 L209.59,144.28 L210.36,144.38 L211.13,144.49 L211.89,144.60 L212.66,144.71 L213.43,144.81 L214.20,144.92 L214.97,145.03 L215.74,145.14 L216.51,145.25 L217.27,145.36 L218.04,145.46 L218.81,145.57 L219.58,145.68 L220.35,145.78 L221.12,145.88 L221.89,145.99 L222.66,146.09 L223.42,146.19 L224.19,146.29 L224.96,146.38 L225.73,146.48 L226.50,146.57 L227.27,146.66 L228.04,146.75 L228.80,146.84 L229.57,146.93 L230.34,147.01 L231.11,147.10 L231.88,147.18 L232.65,147.26 L233.42,147.34 L234.18,147.41 L234.95,147.49 L235.72,147.56 L236.49,147.63 L237.26,147.70 L238.03,147.77 L238.80,147.83 L239.57,147.90 L240.33,147.96 L241.10,148.02 L241.87,148.08 L242.64,148.13 L243.41,148.19 L244.18,148.24 L244.95,148.30 L245.71,148.35 L246.48,148.40 L247.25,148.45 L248.02,148.49 L248.79,148.54 L249.56,148.58 L250.33,148.63 L251.09,148.67 L251.86,148.71 L252.63,148.75 L253.40,148.79 L254.17,148.82 L254.94,148.86 L255.71,148.89 L256.47,148.93 L257.24,148.96 L258.01,148.99 L258.78,149.02 L259.55,149.05 L260.32,149.08 L261.09,149.11 L261.86,149.14 L262.62,149.16 L263.39,149.19 L264.16,149.21 L264.93,149.24 L265.70,149.26 L266.47,149.28 L267.24,149.31 L268.00,149.33 L268.77,149.35 L269.54,149.37 L270.31,149.39 L271.08,149.41 L271.85,149.42 L272.62,149.44 L273.38,149.46 L274.15,149.48 L274.92,149.49 L275.69,149.51 L276.46,149.52 L277.23,149.54 L278.00,149.55 L278.76,149.56 L279.53,149.58 L280.30,149.59 L281.07,149.60 L281.84,149.62 L282.61,149.63 L283.38,149.64 L284.15,149.65 L284.91,149.66 L285.68,149.67 L286.45,149.68 L287.22,149.69 L287.99,149.70 L288.76,149.71 L289.53,149.72 L290.29,149.72 L291.06,149.73 L291.83,149.74 L292.60,149.75 L293.37,149.76 L294.14,149.76 L294.91,149.77 L295.67,149.78 L296.44,149.78 L297.21,149.79 L297.98,149.80 L298.75,149.80 L299.52,149.81 L300.29,149.81 L301.06,149.82 L301.82,149.82 L302.59,149.83 L303.36,149.83 L304.13,149.84 L304.90,149.84 L305.67,149.85 L306.44,149.85 L307.20,149.86 L307.97,149.86 L308.74,149.86 L309.51,149.87 L310.28,149.87 L311.05,149.87 L311.82,149.88 L312.58,149.88 L313.35,149.88 L314.12,149.89 L314.89,149.89 L315.66,149.89 L316.43,149.90 L317.20,149.90 L317.96,149.90 L318.73,149.90 L319.50,149.91 L320.27,149.91 L321.04,149.91 L321.81,149.91 L322.58,149.92 L323.35,149.92 L324.11,149.92 L324.88,149.92 L325.65,149.92 L326.42,149.93 L327.19,149.93 L327.96,149.93 L328.73,149.93 L329.49,149.93 L330.26,149.93 L331.03,149.94 L331.80,149.94 L332.57,149.94 L333.34,149.94 L334.11,149.94 L334.87,149.94 L335.64,149.94 L336.41,149.94 L337.18,149.95 L337.95,149.95 L338.72,149.95 L339.49,149.95 L340.25,149.95 L341.02,149.95 L341.79,149.95 L342.56,149.95 L343.33,149.95 L344.10,149.95 L344.87,149.96 L345.64,149.96 L346.40,149.96 L347.17,149.96 L347.94,149.96 L348.71,149.96 L349.48,149.96 L350.25,149.96 L351.02,149.96 L351.78,149.96 L352.55,149.96 L353.32,149.96 L354.09,149.96 L354.86,149.96 L355.63,149.97 L356.40,149.97 L357.16,149.97 L357.93,149.97 L358.70,149.97 L359.47,149.97 L360.24,149.97 L361.01,149.97 L361.78,149.97 L362.55,149.97 L363.31,149.97 L364.08,149.97 L364.85,149.97 L365.62,149.97 L366.39,149.97 L367.16,149.97 L367.93,149.97 L368.69,149.97 L369.46,149.97 L370.23,149.97 L371.00,149.97" stroke="#ff0000" stroke-width="2.0"/>
<path d="M63.55,57.39 L64.32,57.39 L65.09,57.39 L65.86,57.39 L66.62,57.39 L67.39,57.39 L68.16,57.39 L68.93,57.39 L69.70,57.39 L70.47,57.39 L71.24,57.39 L72.00,57.39 L72.77,57.39 L73.54,57.39 L74.31,57.39 L75.08,57.39 L75.85,57.39 L76.62,57.39 L77.39,57.39 L78.15,57.39 L78.92,57.39 L79.69,57.39 L80.46,57.39 L81.23,57.39 L82.00,57.39 L82.77,57.39 L83.53,57.39 L84.30,57.39 L85.07,57.39 L85.84,57.39 L86.61,57.39 L87.38,57.40 L88.15,57.40 L88.91,57.40 L89.68,57.40 L90.45,57.40 L91.22,57.40 L91.99,57.40 L92.76,57.40 L93.53,57.40 L94.29,57.40 L95.06,57.40 L95.83,57.40 L96.60,57.40 L97.37,57.40 L98.14,57.40 L98.91,57.41 L99.68,57.41 L100.44,57.41 L101.21,57.41 L101.98,57.41 L102.75,57.41 L103.52,57.41 L104.29,57.41 L105.06,57.42 L105.82,57.42 L106.59,57.42 L107.36,57.42 L108.13,57.42 L108.90,57.43 L109.67,57.43 L110.44,57.43 L111.20,57.43 L111.97,57.44 L112.74,57.44 L113.51,57.44 L114.28,57.45 L115.05,57.45 L115.82,57.45 L116.59,57.46 L117.35,57.46 L118.12,57.46 L118.89,57.47 L119.66,57.47 L120.43,57.48 L121.20,57.49 L121.97,57.49 L122.73,57.50 L123.50,57.50 L124.27,57.51 L125.04,57.52 L125.81,57.53 L126.58,57.54 L127.35,57.54 L128.11,57.55 L128.88,57.56 L129.65,57.57 L130.42,57.59 L131.19,57.60 L131.96,57.61 L132.73,57.62 L133.49,57.64 L134.26,57.65 L135.03,57.67 L135.80,57.69 L136.57,57.70 L137.34,57.72 L138.11,57.74 L138.88,57.77 L139.64,57.79 L140.41,57.81 L141.18,57.84 L141.95,57.87 L142.72,57.89 L143.49,57.92 L144.26,57.96 L145.02,57.99 L145.79,58.03 L146.56,58.07 L147.33,58.11 L148.10,58.15 L148.87,58.20 L149.64,58.24 L150.40,58.30 L151.17,58.35 L151.94,58.41 L152.71,58.47 L153.48,58.53 L154.25,58.60 L155.02,58.67 L155.78,58.75 L156.55,58.83 L157.32,58.91 L158.09,59.00 L158.86,59.10 L159.63,59.20 L160.40,59.30 L161.17,59.41 L161.93,59.53 L162.70,59.66 L163.47,59.79 L164.24,59.93 L165.01,60.07 L165.78,60.23 L166.55,60.39 L167.31,60.56 L168.08,60.74 L168.85,60.93 L169.62,61.13 L170.39,61.34 L171.16,61.55 L171.93,61.78 L172.69,62.03 L173.46,62.28 L174.23,62.55 L175.00,62.83 L175.77,63.12 L176.54,63.42 L177.31,63.74 L178.08,64.08 L178.84,64.42 L179.61,64.79 L180.38,65.17 L181.15,65.56 L181.92,65.97 L182.69,66.40 L183.46,66.85 L184.22,67.31 L184.99,67.79 L185.76,68.28 L186.53,68.80 L187.30,69.33 L188.07,69.88 L188.84,70.45 L189.60,71.04 L190.37,71.64 L191.14,72.26 L191.91,72.90 L192.68,73.56 L193.45,74.24 L194.22,74.93 L194.98,75.64 L195.75,76.37 L196.52,77.11 L197.29,77.87 L198.06,78.64 L198.83,79.43 L199.60,80.23 L200.37,81.05 L201.13,81.88 L201.90,82.72 L202.67,83.58 L203.44,84.44 L204.21,85.32 L204.98,86.20 L205.75,87.10 L206.51,88.00 L207.28,88.91 L208.05,89.83 L208.82,90.76 L209.59,91.69 L210.36,92.62 L211.13,93.56 L211.89,94.50 L212.66,95.44 L213.43,96.39 L214.20,97.34 L214.97,98.28 L215.74,99.23 L216.51,100.17 L217.27,101.11 L218.04,102.05 L218.81,102.99 L219.58,103.92 L220.35,104.85 L221.12,105.78 L221.89,106.69 L222.66,107.61 L223.42,108.51 L224.19,109.41 L224.96,110.30 L225.73,111.18 L226.50,112.06 L227.27,112.92 L228.04,113.78 L228.80,114.62 L229.57,115.46 L230.34,116.29 L231.11,117.10 L231.88,117.91 L232.65,118.70 L233.42,119.48 L234.18,120.26 L234.95,121.01 L235.72,121.76 L236.49,122.50 L237.26,123.22 L238.03,123.93 L238.80,124.63 L239.57,125.31 L240.33,125.99 L241.10,126.65 L241.87,127.30 L242.64,127.93 L243.41,128.56 L244.18,129.17 L244.95,129.76 L245.71,130.35 L246.48,130.92 L247.25,131.48 L248.02,132.03 L248.79,132.56 L249.56,133.09 L250.33,133.60 L251.09,134.10 L251.86,134.58 L252.63,135.06 L253.40,135.52 L254.17,135.97 L254.94,136.41 L255.71,136.84 L256.47,137.26 L257.24,137.67 L258.01,138.07 L258.78,138.45 L259.55,138.83 L260.32,139.20 L261.09,139.55 L261.86,139.90 L262.62,140.24 L263.39,140.56 L264.16,140.88 L264.93,141.19 L265.70,141.49 L266.47,141.78 L267.24,142.07 L268.00,142.34 L268.77,142.61 L269.54,142.87 L270.31,143.12 L271.08,143.36 L271.85,143.60 L272.62,143.83 L273.38,144.05 L274.15,144.27 L274.92,144.48 L275.69,144.68 L276.46,144.87 L277.23,145.06 L278.00,145.25 L278.76,145.43 L279.53,145.60 L280.30,145.77 L281.07,145.93 L281.84,146.08 L282.61,146.24 L283.38,146.38 L284.15,146.52 L284.91,146.66 L285.68,146.79 L286.45,146.92 L287.22,147.05 L287.99,147.17 L288.76,147.28 L289.53,147.40 L290.29,147.50 L291.06,147.61 L291.83,147.71 L292.60,147.81 L293.37,147.90 L294.14,148.00 L294.91,148.08 L295.67,148.17 L296.44,148.25 L297.21,148.33 L297.98,148.41 L298.75,148.48 L299.52,148.56 L300.29,148.63 L301.06,148.69 L301.82,148.76 L302.59,148.82 L303.36,148.88 L304.13,148.94 L304.90,149.00 L305.67,149.05 L306.44,149.10 L307.20,149.16 L307.97,149.20 L308.74,149.25 L309.51,149.30 L310.28,149.34 L311.05,149.38 L311.82,149.43 L312.58,149.47 L313.35,149.50 L314.12,149.54 L314.89,149.58 L315.66,149.61 L316.43,149.65 L317.20,149.68 L317.96,149.71 L318.73,149.74 L319.50,149.77 L320.27,149.80 L321.04,149.82 L321.81,149.85 L322.58,149.87 L323.35,149.90 L324.11,149.92 L324.88,149.94 L325.65,149.96 L326.42,149.99 L327.19,150.01 L327.96,150.03 L328.73,150.04 L329.49,150.06 L330.26,150.08 L331.03,150.10 L331.80,150.11 L332.57,150.13 L333.34,150.14 L334.11,150.16 L334.87,150.17 L335.64,150.19 L336.41,150.20 L337.18,150.21 L337.95,150.23 L338.72,150.24 L339.49,150.25 L340.25,150.26 L341.02,150.27 L341.79,150.28 L342.56,150.29 L343.33,150.30 L344.10,150.31 L344.87,150.32 L345.64,150.33 L346.40,150.33 L347.17,150.34 L347.94,150.35 L348.71,150.36 L349.48,150.36 L350.25,150.37 L351.02,150.38 L351.78,150.38 L352.55,150.39 L353.32,150.40 L354.09,150.40 L354.86,150.41 L355.63,150.41 L356.40,150.42 L357.16,150.42 L357.93,150.43 L358.70,150.43 L359.47,150.44 L360.24,150.44 L361.01,150.45 L361.78,150.45 L362.55,150.45 L363.31,150.46 L364.08,150.46 L364.85,150.46 L365.62,150.47 L366.39,150.47 L367.16,150.47 L367.93,150.48 L368.69,150.48 L369.46,150.48 L370.23,150.49 L371.00,150.49" stroke="#ff0000" stroke-width="2.4"/>
</g>
<g stroke="#000" fill="none">
<path d="M63.55,330.00 v-4.5 M63.55,22.60 v4.5 M63.55,330.00 h4.5 M371.00,330.00 h-4.5 M94.40,330.00 v-2.2 M94.40,22.60 v2.2 M63.55,299.15 h2.2 M371.00,299.15 h-2.2 M112.45,330.00 v-2.2 M112.45,22.60 v2.2 M63.55,281.11 h2.2 M371.00,281.11 h-2.2 M125.25,330.00 v-2.2 M125.25,22.60 v2.2 M63.55,268.31 h2.2 M371.00,268.31 h-2.2 M135.18,330.00 v-2.2 M135.18,22.60 v2.2 M63.55,258.38 h2.2 M371.00,258.38 h-2.2 M143.30,330.00 v-2.2 M143.30,22.60 v2.2 M63.55,250.27 h2.2 M371.00,250.27 h-2.2 M150.16,330.00 v-2.2 M150.16,22.60 v2.2 M63.55,243.41 h2.2 M371.00,243.41 h-2.2 M156.10,330.00 v-2.2 M156.10,22.60 v2.2 M63.55,237.46 h2.2 M371.00,237.46 h-2.2 M161.34,330.00 v-2.2 M161.34,22.60 v2.2 M63.55,232.22 h2.2 M371.00,232.22 h-2.2 M166.03,330.00 v-4.5 M166.03,22.60 v4.5 M63.55,227.53 h4.5 M371.00,227.53 h-4.5 M196.88,330.00 v-2.2 M196.88,22.60 v2.2 M63.55,196.69 h2.2 M371.00,196.69 h-2.2 M214.93,330.00 v-2.2 M214.93,22.60 v2.2 M63.55,178.64 h2.2 M371.00,178.64 h-2.2 M227.73,330.00 v-2.2 M227.73,22.60 v2.2 M63.55,165.84 h2.2 M371.00,165.84 h-2.2 M237.67,330.00 v-2.2 M237.67,22.60 v2.2 M63.55,155.91 h2.2 M371.00,155.91 h-2.2 M245.78,330.00 v-2.2 M245.78,22.60 v2.2 M63.55,147.80 h2.2 M371.00,147.80 h-2.2 M252.64,330.00 v-2.2 M252.64,22.60 v2.2 M63.55,140.94 h2.2 M371.00,140.94 h-2.2 M258.59,330.00 v-2.2 M258.59,22.60 v2.2 M63.55,135.00 h2.2 M371.00,135.00 h-2.2 M263.83,330.00 v-2.2 M263.83,22.60 v2.2 M63.55,129.76 h2.2 M371.00,129.76 h-2.2 M268.52,330.00 v-4.5 M268.52,22.60 v4.5 M63.55,125.07 h4.5 M371.00,125.07 h-4.5 M299.37,330.00 v-2.2 M299.37,22.60 v2.2 M63.55,94.22 h2.2 M371.00,94.22 h-2.2 M317.41,330.00 v-2.2 M317.41,22.60 v2.2 M63.55,76.18 h2.2 M371.00,76.18 h-2.2 M330.22,330.00 v-2.2 M330.22,22.60 v2.2 M63.55,63.38 h2.2 M371.00,63.38 h-2.2 M340.15,330.00 v-2.2 M340.15,22.60 v2.2 M63.55,53.45 h2.2 M371.00,53.45 h-2.2 M348.26,330.00 v-2.2 M348.26,22.60 v2.2 M63.55,45.33 h2.2 M371.00,45.33 h-2.2 M355.13,330.00 v-2.2 M355.13,22.60 v2.2 M63.55,38.47 h2.2 M371.00,38.47 h-2.2 M361.07,330.00 v-2.2 M361.07,22.60 v2.2 M63.55,32.53 h2.2 M371.00,32.53 h-2.2 M366.31,330.00 v-2.2 M366.31,22.60 v2.2 M63.55,27.29 h2.2 M371.00,27.29 h-2.2 M371.00,330.00 v-4.5 M371.00,22.60 v4.5 M63.55,22.60 h4.5 M371.00,22.60 h-4.5" stroke-width="1"/>
<rect x="63.55" y="22.60" width="307.45" height="307.40" stroke-width="1.1"/>
</g>
<g font-family="Liberation Sans, sans-serif" fill="#000" stroke="#000" stroke-width="0.13" font-size="9.7" text-rendering="geometricPrecision" filter="url(#nf)">
<text x="58" y="333.30" text-anchor="end">1</text>
<text x="58" y="230.83" text-anchor="end">10</text>
<text x="58" y="128.37" text-anchor="end">100</text>
<text x="58" y="25.90" text-anchor="end">1000</text>
<text x="64.75" y="343.0" text-anchor="middle">0.001</text>
<text x="167.23" y="343.0" text-anchor="middle">0.01</text>
<text x="269.72" y="343.0" text-anchor="middle">0.1</text>
<text x="372.20" y="343.0" text-anchor="middle">1</text>
<text x="68" y="74.7">300 fb<tspan font-size="7.8" dy="-4.4">-1</tspan><tspan dy="4.4"> of collected data</tspan></text>
<text x="68" y="177">30 fb<tspan font-size="7.8" dy="-4.4">-1</tspan><tspan dy="4.4"> of collected data</tspan></text>
<text x="286.7" y="39">e e p<tspan font-size="8.4" dy="3.4">T</tspan><tspan font-size="7.7" dy="-8.0">miss</tspan></text>
<text transform="translate(263.36,68.5) scale(0.86,1)" stroke-width="0.4">μ</text><text transform="translate(271.06,68.5) scale(0.86,1)" stroke-width="0.4">μ</text>
<text x="280.57" y="68.5">p<tspan font-size="8.4" dy="3.4">T</tspan><tspan font-size="7.7" dy="-8.0">miss</tspan></text>
<text x="326.3" y="132.7">e</text><text transform="translate(334.84,132.7) scale(0.86,1)" stroke-width="0.4">μ</text>
<text x="342.67" y="132.7">p<tspan font-size="8.4" dy="3.4">T</tspan><tspan font-size="7.7" dy="-8.0">miss</tspan></text>
<text x="317.8" y="159.3">all channels</text>
</g>
<g font-family="Liberation Sans, sans-serif" fill="#000" stroke="#000" stroke-width="0.13" font-size="14.5" text-rendering="geometricPrecision" filter="url(#nf)">
<text x="339.9" y="317.0">NH</text>
<text x="217.7" y="358.7" text-anchor="middle">lightest ν mass [eV]</text>
<text transform="translate(24.8,176.8) rotate(-90)" text-anchor="middle">luminosity for 5σ discovery [fb<tspan font-size="11.6" dy="-8">-1</tspan><tspan dy="8">]</tspan></text>
</g>
</svg>
</body></html>
